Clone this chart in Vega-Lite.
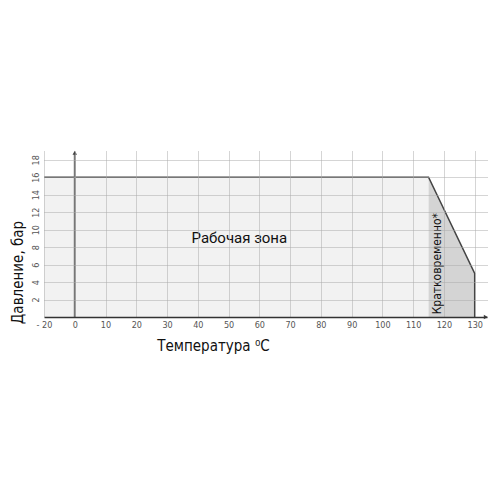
{
  "$schema": "https://vega.github.io/schema/vega-lite/v6.json",
  "autosize": "none",
  "width": 443,
  "height": 166,
  "padding": {"left": 44, "top": 151, "right": 13, "bottom": 183},
  "background": "white",
  "config": {"view": {"stroke": null}},
  "datasets": {
    "work": [{"t": -10, "p": 16}, {"t": 115, "p": 16}],
    "short": [{"t": 115, "p": 16}, {"t": 130, "p": 5}],
    "outline": [{"t": -10, "p": 16, "o": 1}, {"t": 115, "p": 16, "o": 2}, {"t": 130, "p": 5, "o": 3}, {"t": 130, "p": 0, "o": 4}],
    "labels": [
      {"t": 53.5, "p": 9, "txt": "Рабочая зона", "kind": "main"},
      {"t": 117.6, "p": 6.1, "txt": "Кратковременно*", "kind": "side"}
    ]
  },
  "layer": [
    {
      "data": {"name": "work"},
      "mark": {"type": "area", "color": "#f2f2f2"},
      "encoding": {
        "x": {"field": "t", "type": "quantitative", "scale": {"domain": [-10, 134], "nice": false, "zero": false},
          "axis": {"values": [-10, 0, 10, 20, 30, 40, 50, 60, 70, 80, 90, 100, 110, 120, 130], "tickCount": 30, "format": "d",
            "labelExpr": "datum.value == -10 ? '- 20' : datum.label", "labelOverlap": false, "labelBound": false, "labelFlush": false, "zindex": 1,
            "title": "Температура ⁰C", "titleX": 169, "titleY": 33, "titleAlign": "center", "titleBaseline": "alphabetic",
            "titleFont": "DejaVu Sans Condensed", "titleFontSize": 15, "titleFontWeight": "normal", "titleColor": "#111",
            "labelFont": "DejaVu Sans Condensed", "labelFontSize": 9, "labelColor": "#555", "labelPadding": 3,
            "ticks": false, "domain": true, "domainColor": "#333", "domainWidth": 1.5,
            "grid": true, "gridColor": "#aaa", "gridDash": [1, 1], "gridWidth": 1}},
        "y": {"field": "p", "type": "quantitative", "scale": {"domain": [0, 19], "nice": false},
          "axis": {"values": [2, 4, 6, 8, 10, 12, 14, 16, 18], "tickCount": 30, "format": "d", "labelOverlap": false, "labelBound": false, "labelFlush": false, "zindex": 1,
            "title": "Давление, бар", "titleX": -19, "titleY": 121, "titleAngle": -90, "titleAlign": "center", "titleBaseline": "bottom",
            "titleFont": "DejaVu Sans Condensed", "titleFontSize": 15, "titleFontWeight": "normal", "titleColor": "#111",
            "labelFont": "DejaVu Sans Condensed", "labelFontSize": 9, "labelColor": "#555", "labelAngle": -90, "labelAlign": "center", "labelBaseline": "bottom", "labelPadding": 4,
            "ticks": false, "domain": false,
            "grid": true, "gridColor": "#aaa", "gridDash": [1, 1], "gridWidth": 1}}
      }
    },
    {
      "data": {"name": "short"},
      "mark": {"type": "area", "color": "#d4d4d4"},
      "encoding": {
        "x": {"field": "t", "type": "quantitative"},
        "y": {"field": "p", "type": "quantitative"}
      }
    },
    {
      "data": {"name": "outline"},
      "mark": {"type": "line", "color": "#444", "strokeWidth": 1.5},
      "encoding": {
        "x": {"field": "t", "type": "quantitative"},
        "y": {"field": "p", "type": "quantitative"},
        "order": {"field": "o", "type": "quantitative"}
      }
    },
    {
      "data": {"values": [{"t": 0, "p": 0, "p1": 18.7}]},
      "mark": {"type": "rule", "color": "#777", "strokeWidth": 2},
      "encoding": {
        "x": {"field": "t", "type": "quantitative"},
        "y": {"field": "p", "type": "quantitative"},
        "y2": {"field": "p1"}
      }
    },
    {
      "data": {"values": [{"t": 0, "p": 18.8}]},
      "mark": {"type": "point", "shape": "triangle-up", "filled": true, "color": "#444", "size": 20, "opacity": 1},
      "encoding": {
        "x": {"field": "t", "type": "quantitative"},
        "y": {"field": "p", "type": "quantitative"}
      }
    },
    {
      "data": {"values": [{"t": 133.6, "p": 0}]},
      "mark": {"type": "point", "shape": "triangle-right", "filled": true, "color": "#444", "size": 20, "opacity": 1},
      "encoding": {
        "x": {"field": "t", "type": "quantitative"},
        "y": {"field": "p", "type": "quantitative"}
      }
    },
    {
      "data": {"name": "labels"},
      "transform": [{"filter": "datum.kind == 'main'"}],
      "mark": {"type": "text", "font": "Roboto", "fontSize": 15, "color": "#111", "align": "center", "baseline": "middle"},
      "encoding": {
        "x": {"field": "t", "type": "quantitative"},
        "y": {"field": "p", "type": "quantitative"},
        "text": {"field": "txt"}
      }
    },
    {
      "data": {"name": "labels"},
      "transform": [{"filter": "datum.kind == 'side'"}],
      "mark": {"type": "text", "font": "DejaVu Sans Condensed", "fontSize": 12, "color": "#111", "align": "center", "baseline": "middle", "angle": -90},
      "encoding": {
        "x": {"field": "t", "type": "quantitative"},
        "y": {"field": "p", "type": "quantitative"},
        "text": {"field": "txt"}
      }
    }
  ]
}
